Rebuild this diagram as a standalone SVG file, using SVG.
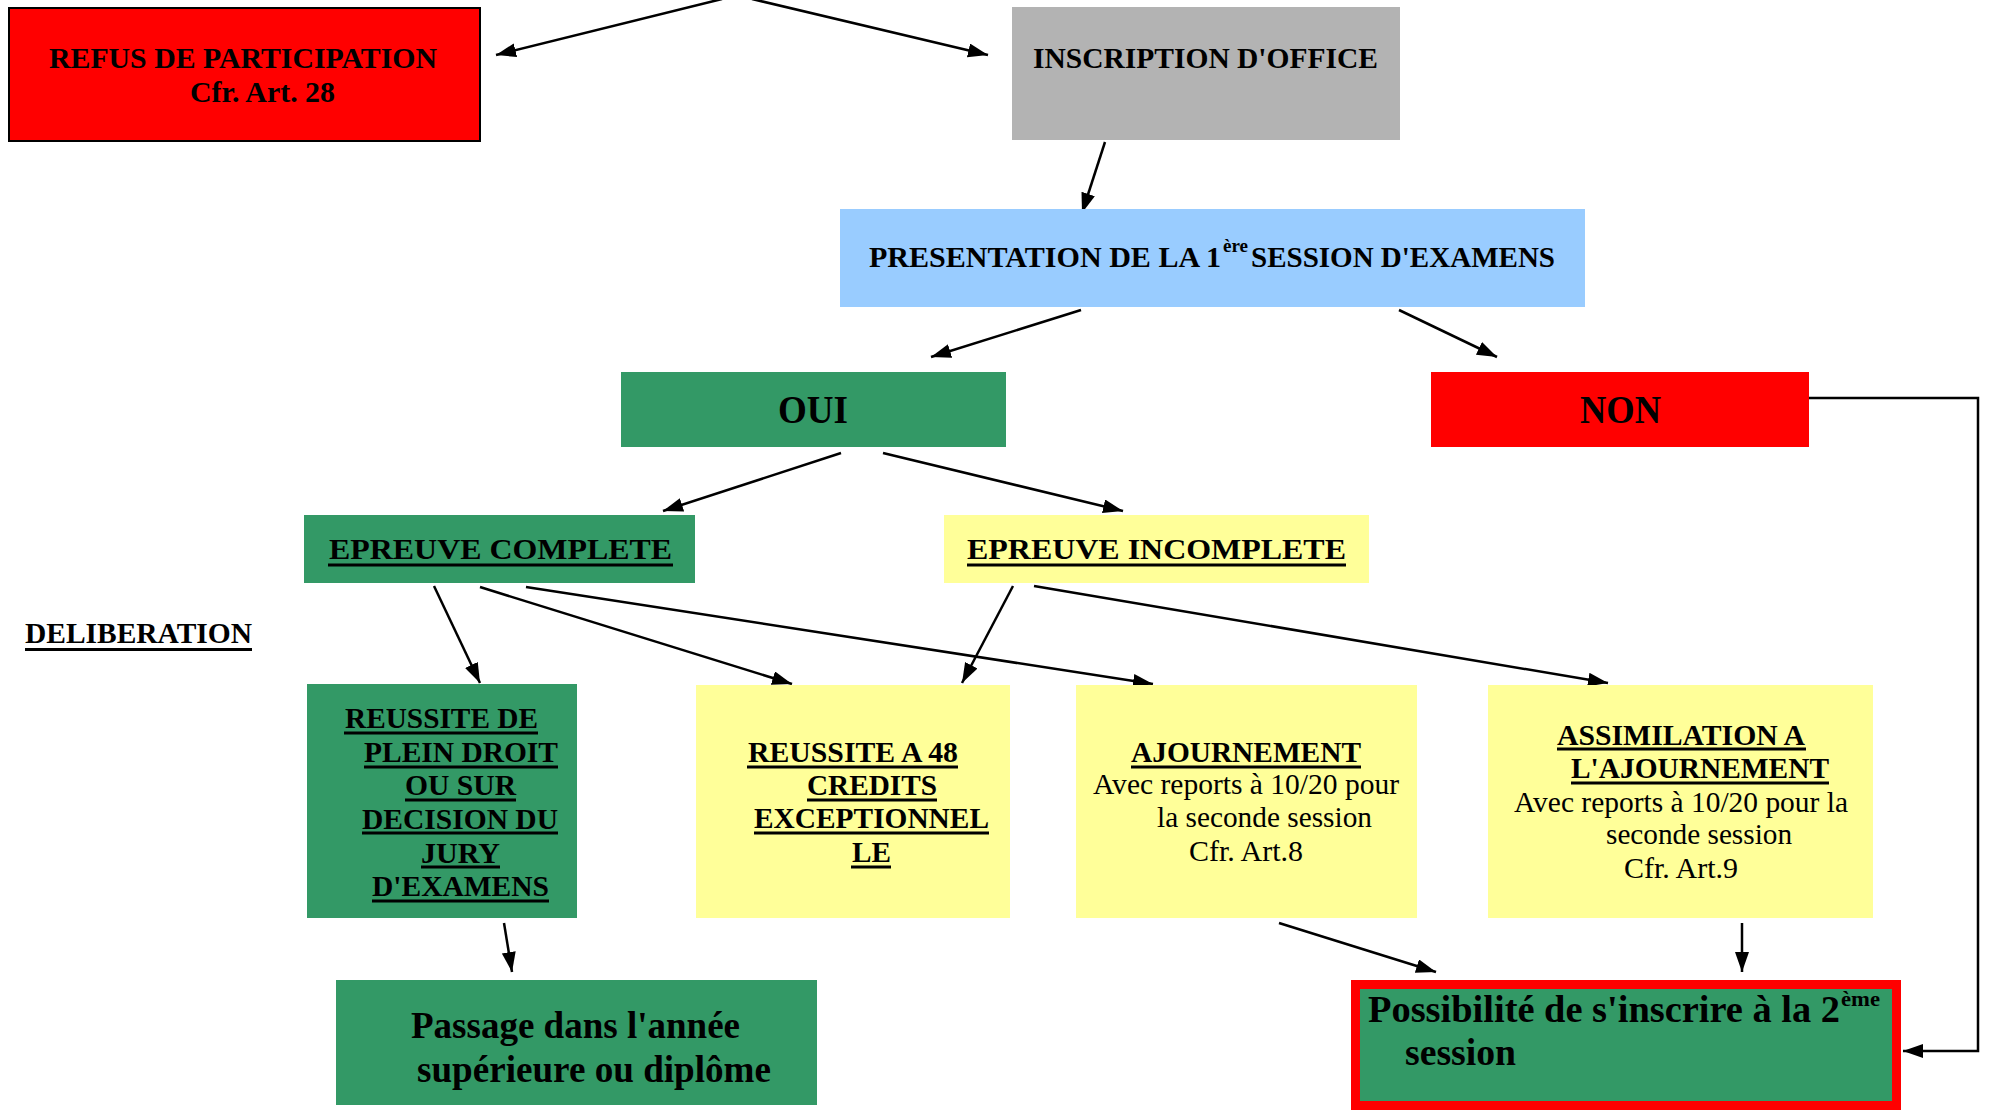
<svg xmlns="http://www.w3.org/2000/svg" width="1989" height="1110" viewBox="0 0 1989 1110">
<style>
text{font-family:"Liberation Serif","Times New Roman",serif;fill:#000}
.b{font-weight:bold;font-size:30px}
.r{font-size:29px}
.big{font-weight:bold;font-size:37px}
.ul{stroke:#000;stroke-width:3}
.c{fill:none;stroke:#000;stroke-width:2.5}
.g{fill:#339966}
.y{fill:#ffff99}
</style>
<defs>
<marker id="ah" markerUnits="userSpaceOnUse" markerWidth="22" markerHeight="16" refX="20" refY="7" orient="auto">
<path d="M0,0 L20,7 L0,14 z" fill="#000"/>
</marker>
</defs>
<rect width="1989" height="1110" fill="#fff"/>

<g id="connectors">
<path class="c" d="M722,-1 L496,55" marker-end="url(#ah)"/>
<path class="c" d="M752,-1 L988,55" marker-end="url(#ah)"/>
<path class="c" d="M1105,142 L1082,213" marker-end="url(#ah)"/>
<path class="c" d="M1081,310 L931,357" marker-end="url(#ah)"/>
<path class="c" d="M1399,310 L1497,357" marker-end="url(#ah)"/>
<path class="c" d="M841,453 L663,511" marker-end="url(#ah)"/>
<path class="c" d="M883,453 L1123,511" marker-end="url(#ah)"/>
<path class="c" d="M434,586 L480,683" marker-end="url(#ah)"/>
<path class="c" d="M480,587 L792,684" marker-end="url(#ah)"/>
<path class="c" d="M526,587 L1153,684" marker-end="url(#ah)"/>
<path class="c" d="M1013,586 L962,683" marker-end="url(#ah)"/>
<path class="c" d="M1034,586 L1608,683" marker-end="url(#ah)"/>
<path class="c" d="M504,923 L512,972" marker-end="url(#ah)"/>
<path class="c" d="M1279,923 L1436,972" marker-end="url(#ah)"/>
<path class="c" d="M1742,923 L1742,972" marker-end="url(#ah)"/>
<path class="c" d="M1809,398 L1978,398 L1978,1051 L1903,1051" marker-end="url(#ah)"/>
</g>

<g id="refus">
<rect x="9" y="8" width="471" height="133" fill="#ff0000" stroke="#000" stroke-width="2"/>
<text class="b" x="49" y="68" textLength="388" lengthAdjust="spacingAndGlyphs">REFUS DE PARTICIPATION</text>
<text class="b" x="190" y="102" textLength="145" lengthAdjust="spacingAndGlyphs">Cfr. Art. 28</text>
</g>

<g id="inscription">
<rect x="1012" y="7" width="388" height="133" fill="#b3b3b3"/>
<text class="b" x="1033" y="68" textLength="345" lengthAdjust="spacingAndGlyphs">INSCRIPTION D'OFFICE</text>
</g>

<g id="presentation">
<rect x="840" y="209" width="745" height="98" fill="#99ccff"/>
<text class="b" x="869" y="267" textLength="352" lengthAdjust="spacingAndGlyphs">PRESENTATION DE LA 1</text>
<text font-weight="bold" font-size="18" x="1223" y="252" textLength="25" lengthAdjust="spacingAndGlyphs">ère</text>
<text class="b" x="1251" y="267" textLength="304" lengthAdjust="spacingAndGlyphs">SESSION D'EXAMENS</text>
</g>

<g id="oui">
<rect class="g" x="621" y="372" width="385" height="75"/>
<text font-weight="bold" font-size="39" x="778" y="423" textLength="70" lengthAdjust="spacingAndGlyphs">OUI</text>
</g>

<g id="non">
<rect x="1431" y="372" width="378" height="75" fill="#ff0000"/>
<text font-weight="bold" font-size="39" x="1580" y="423" textLength="81" lengthAdjust="spacingAndGlyphs">NON</text>
</g>

<g id="epreuve-complete">
<rect class="g" x="304" y="515" width="391" height="68"/>
<text class="b" x="329" y="559" textLength="343" lengthAdjust="spacingAndGlyphs">EPREUVE COMPLETE</text>
<line class="ul" x1="328" y1="565" x2="673" y2="565"/>
</g>

<g id="epreuve-incomplete">
<rect class="y" x="944" y="515" width="425" height="68"/>
<text class="b" x="967" y="559" textLength="379" lengthAdjust="spacingAndGlyphs">EPREUVE INCOMPLETE</text>
<line class="ul" x1="967" y1="565" x2="1346" y2="565"/>
</g>

<g id="deliberation">
<text class="b" x="25" y="643" textLength="227" lengthAdjust="spacingAndGlyphs">DELIBERATION</text>
<line class="ul" x1="25" y1="649.5" x2="252" y2="649.5"/>
</g>

<g id="reussite-plein-droit">
<rect class="g" x="307" y="684" width="270" height="234"/>
<text class="b" x="345" y="728" textLength="193" lengthAdjust="spacingAndGlyphs">REUSSITE DE</text>
<text class="b" x="364" y="762" textLength="194" lengthAdjust="spacingAndGlyphs">PLEIN DROIT</text>
<text class="b" x="405" y="795" textLength="111" lengthAdjust="spacingAndGlyphs">OU SUR</text>
<text class="b" x="362" y="829" textLength="196" lengthAdjust="spacingAndGlyphs">DECISION DU</text>
<text class="b" x="421" y="863" textLength="79" lengthAdjust="spacingAndGlyphs">JURY</text>
<text class="b" x="372" y="896" textLength="177" lengthAdjust="spacingAndGlyphs">D'EXAMENS</text>
<line class="ul" x1="344" y1="733" x2="538" y2="733"/>
<line class="ul" x1="364" y1="767" x2="558" y2="767"/>
<line class="ul" x1="405" y1="800" x2="516" y2="800"/>
<line class="ul" x1="362" y1="833" x2="558" y2="833"/>
<line class="ul" x1="421" y1="867" x2="500" y2="867"/>
<line class="ul" x1="372" y1="901" x2="549" y2="901"/>
</g>

<g id="reussite-48">
<rect class="y" x="696" y="685" width="314" height="233"/>
<text class="b" x="748" y="762" textLength="210" lengthAdjust="spacingAndGlyphs">REUSSITE A 48</text>
<text class="b" x="807" y="795" textLength="130" lengthAdjust="spacingAndGlyphs">CREDITS</text>
<text class="b" x="754" y="828" textLength="235" lengthAdjust="spacingAndGlyphs">EXCEPTIONNEL</text>
<text class="b" x="852" y="862" textLength="39" lengthAdjust="spacingAndGlyphs">LE</text>
<line class="ul" x1="747" y1="767" x2="958" y2="767"/>
<line class="ul" x1="807" y1="800" x2="937" y2="800"/>
<line class="ul" x1="754" y1="833" x2="989" y2="833"/>
<line class="ul" x1="851" y1="867" x2="891" y2="867"/>
</g>

<g id="ajournement">
<rect class="y" x="1076" y="685" width="341" height="233"/>
<text class="b" x="1131" y="762" textLength="230" lengthAdjust="spacingAndGlyphs">AJOURNEMENT</text>
<line class="ul" x1="1131" y1="767" x2="1361" y2="767"/>
<text class="r" x="1093" y="794" textLength="306" lengthAdjust="spacingAndGlyphs">Avec reports à 10/20 pour</text>
<text class="r" x="1157" y="827" textLength="215" lengthAdjust="spacingAndGlyphs">la seconde session</text>
<text class="r" x="1189" y="861" textLength="114" lengthAdjust="spacingAndGlyphs">Cfr. Art.8</text>
</g>

<g id="assimilation">
<rect class="y" x="1488" y="685" width="385" height="233"/>
<text class="b" x="1557" y="745" textLength="248" lengthAdjust="spacingAndGlyphs">ASSIMILATION A</text>
<text class="b" x="1571" y="778" textLength="258" lengthAdjust="spacingAndGlyphs">L'AJOURNEMENT</text>
<line class="ul" x1="1557" y1="749" x2="1806" y2="749"/>
<line class="ul" x1="1571" y1="783" x2="1829" y2="783"/>
<text class="r" x="1514" y="812" textLength="334" lengthAdjust="spacingAndGlyphs">Avec reports à 10/20 pour la</text>
<text class="r" x="1606" y="844" textLength="186" lengthAdjust="spacingAndGlyphs">seconde session</text>
<text class="r" x="1624" y="878" textLength="114" lengthAdjust="spacingAndGlyphs">Cfr. Art.9</text>
</g>

<g id="passage">
<rect class="g" x="336" y="980" width="481" height="125"/>
<text font-weight="bold" font-size="37" x="411" y="1038" textLength="329" lengthAdjust="spacingAndGlyphs">Passage dans l'année</text>
<text font-weight="bold" font-size="37" x="417" y="1082" textLength="354" lengthAdjust="spacingAndGlyphs">supérieure ou diplôme</text>
</g>

<g id="possibilite">
<rect class="g" x="1355.5" y="984.5" width="541" height="121" stroke="#ff0000" stroke-width="9"/>
<text class="big" x="1368" y="1022" textLength="472" lengthAdjust="spacingAndGlyphs">Possibilité de s'inscrire à la 2</text>
<text font-weight="bold" font-size="22" x="1841" y="1006" textLength="39" lengthAdjust="spacingAndGlyphs">ème</text>
<text class="big" x="1405" y="1065" textLength="111" lengthAdjust="spacingAndGlyphs">session</text>
</g>
</svg>
